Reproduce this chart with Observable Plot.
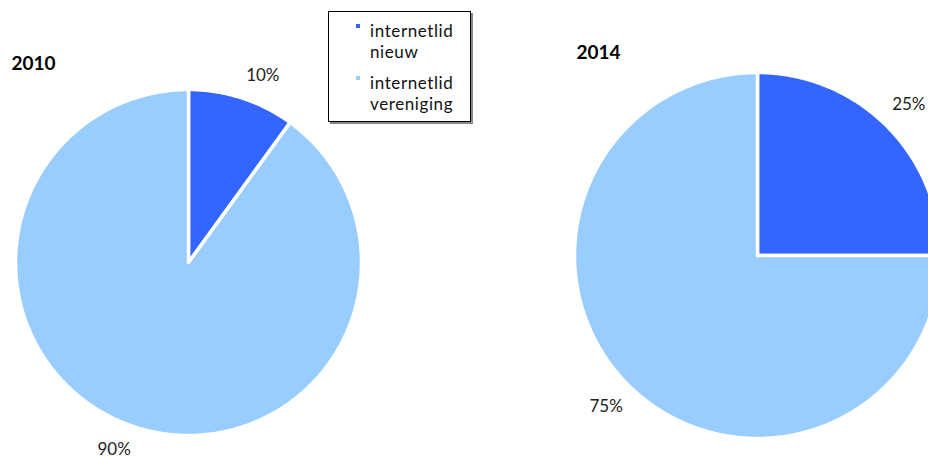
<!DOCTYPE html>
<html>
<head>
<meta charset="utf-8">
<script src="https://cdn.jsdelivr.net/npm/d3@7"></script>
<script src="https://cdn.jsdelivr.net/npm/@observablehq/plot@0.6"></script>
<style>
  html, body { margin: 0; padding: 0; background: #fff; overflow: hidden; }
  #wrap { position: relative; width: 928px; height: 459px; }
  #legend {
    position: absolute; left: 328px; top: 11px; width: 143px; height: 111px;
    border: 1px solid #000; box-shadow: 2px 2px 0 #888; background: #fff;
    font-family: Lato, "Open Sans", sans-serif; font-size: 17px; color: #111;
    box-sizing: border-box;
  }
  .item { position: absolute; left: 41px; line-height: 21px; letter-spacing: 0.6px; }
  .sw { position: absolute; left: -14px; top: 4px; width: 4px; height: 4px; }
</style>
</head>
<body>
<div id="wrap"></div>
<script>
const categories = ["internetlid nieuw", "internetlid vereniging"];
const colors = ["#3366FF", "#99CCFF"];
const years = ["2010", "2014"];
const values2010 = [10, 90];
const values2014 = [25, 75];

// layout (pixel space)
const W = 928, H = 459;
const pies = [
  {year: years[0], values: values2010, cx: 188, cy: 262, r: 173, tx: 11, ty: 69, labelDist: 201, labelShift: 3.7},
  {year: years[1], values: values2014, cx: 757, cy: 255, r: 183, tx: 576, ty: 58, labelDist: 214, labelShift: 0}
];

const wedgePts = [];
const labels = [];
const titles = [];
for (const p of pies) {
  const arcs = d3.pie().sort(null).value(d => d)(p.values);
  arcs.forEach((a, i) => {
    const id = p.year + "-" + i;
    const pts = [{x: p.cx, y: p.cy}];
    const n = Math.max(2, Math.ceil((a.endAngle - a.startAngle) / 0.01));
    for (let k = 0; k <= n; k++) {
      const t = a.startAngle + (a.endAngle - a.startAngle) * k / n;
      pts.push({x: p.cx + p.r * Math.sin(t), y: p.cy - p.r * Math.cos(t)});
    }
    pts.push({x: p.cx, y: p.cy});
    for (const q of pts) wedgePts.push({...q, id, color: colors[i]});
    const mid = (a.startAngle + a.endAngle) / 2 + p.labelShift * Math.PI / 180;
    const d = p.labelDist;
    labels.push({x: p.cx + d * Math.sin(mid), y: p.cy - d * Math.cos(mid), text: p.values[i] + "%"});
  });
  titles.push({x: p.tx, y: p.ty, text: p.year});
}

const chart = Plot.plot({
  width: W, height: H,
  margin: 0,
  x: {domain: [0, W], range: [0, W], axis: null},
  y: {domain: [0, H], range: [0, H], axis: null},
  style: {fontFamily: "Lato, 'Open Sans', sans-serif", background: "#fff", overflow: "hidden"},
  marks: [
    Plot.line(wedgePts, {x: "x", y: "y", z: "id", fill: "color", stroke: "white", strokeWidth: 3.5, strokeLinejoin: "round"}),
    Plot.text(labels, {x: "x", y: "y", text: "text", fontSize: 17, fill: "#222", textAnchor: "middle"}),
    Plot.text(titles, {x: "x", y: "y", text: "text", fontSize: 19, fontWeight: "bold", fill: "#000", textAnchor: "start", lineAnchor: "bottom"})
  ]
});
const wrap = document.getElementById("wrap");
wrap.appendChild(chart);

const legend = document.createElement("div");
legend.id = "legend";
const tops = [8, 60];
categories.forEach((c, i) => {
  const item = document.createElement("div");
  item.className = "item";
  item.style.top = tops[i] + "px";
  const parts = c.split(" ");
  item.innerHTML = `<span class="sw" style="background:${colors[i]}"></span>${parts[0]}<br>${parts[1]}`;
  legend.appendChild(item);
});
wrap.appendChild(legend);
</script>
</body>
</html>
